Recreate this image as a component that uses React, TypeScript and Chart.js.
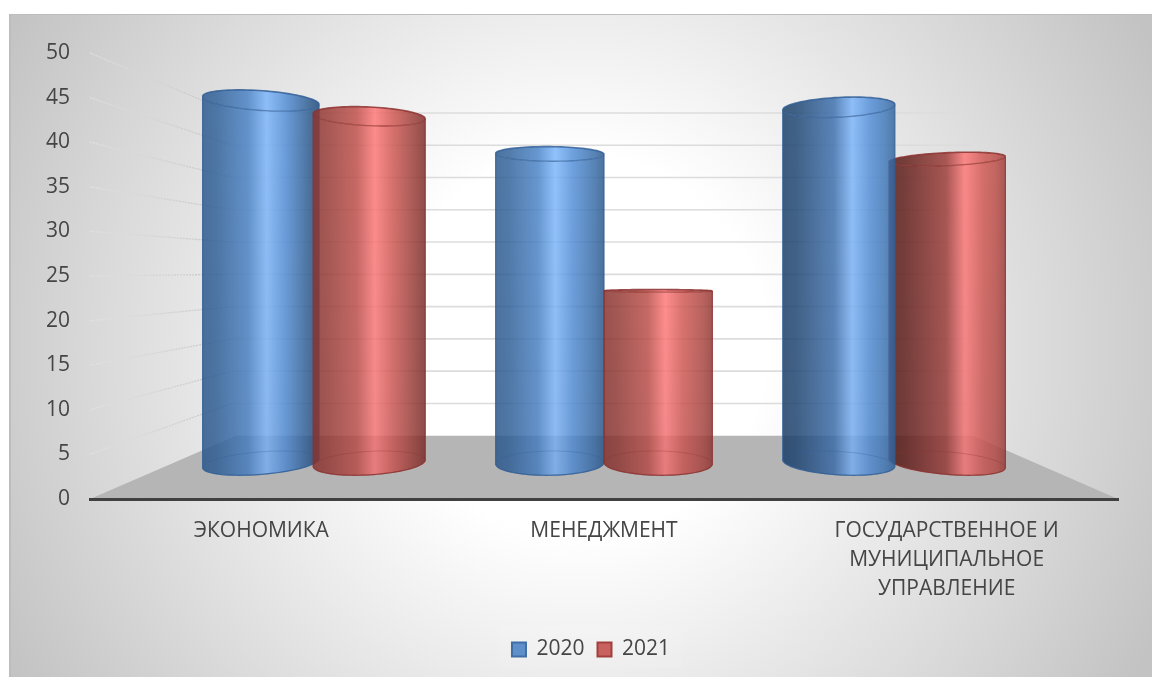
import React, { useEffect, useRef } from "react";
import { Chart, registerables } from "chart.js";

Chart.register(...registerables);

const categories: (string | string[])[] = ["ЭКОНОМИКА", "МЕНЕДЖМЕНТ", ["ГОСУДАРСТВЕННОЕ И", "МУНИЦИПАЛЬНОЕ", "УПРАВЛЕНИЕ"]];
const series2020 = [48.2, 41.1, 47.3];
const series2021 = [46.1, 22.9, 40.4];
const yTicks = [0, 5, 10, 15, 20, 25, 30, 35, 40, 45, 50];

const VANISH_Y = 270;
const BACK_Z = 1 / 0.7236 - 1;
const BAR_Z = 1 / 0.84 - 1;
const RADIUS_Z = 0.075;
const ALPHA = 0.84;
const LEGEND_SHIFT = 32;

const BLUE = { edge: [84, 126, 174], mid: [104, 152, 210], hi: [146, 194, 252], line: "rgba(50,95,150,0.85)", capLine: "rgba(50,95,150,0.65)", soft: "rgba(50,95,150,0.3)" };
const RED = { edge: [172, 92, 88], mid: [204, 108, 104], hi: [255, 142, 142], line: "rgba(140,50,48,0.85)", capLine: "rgba(140,50,48,0.65)", soft: "rgba(140,50,48,0.3)" };

type Pt = [number, number];

const src = (c: number[], f: number) =>
  `rgba(${c.map((v) => Math.max(0, Math.round((v * f - 255 * (1 - ALPHA)) / ALPHA))).join(",")},${ALPHA})`;

const perspectivePlugin = {
  id: "perspective",
  afterLayout(chart: any) {
    if (chart.legend) {
      chart.legend.left += LEGEND_SHIFT;
      chart.legend.right += LEGEND_SHIFT;
    }
  },
  beforeDraw(chart: any) {
    const { ctx, width, height, chartArea: a, scales } = chart;
    const vx = (a.left + a.right) / 2;
    const y = scales.y;
    const proj = (xw: number, yf: number, z: number): Pt => {
      const k = 1 / (1 + z);
      return [vx + (xw - vx) * k, VANISH_Y + (yf - VANISH_Y) * k];
    };
    ctx.save();
    ctx.fillStyle = "#ffffff";
    ctx.fillRect(0, 0, width, height);
    const g = ctx.createRadialGradient(576, 345, 190, 576, 345, 650);
    g.addColorStop(0, "#ffffff");
    g.addColorStop(1, "#c3c3c3");
    ctx.fillStyle = g;
    ctx.fillRect(10, 14, width - 10, height - 14);
    ctx.fillStyle = "#bdbdbd";
    ctx.fillRect(9, 14, width - 9, 1);
    ctx.fillRect(9, 14, 2, height - 14);

    // legend backdrop
    ctx.fillStyle = "rgba(255,255,255,0.1)";
    ctx.fillRect(497, 626, 184, 42);

    // floor
    const zero = y.getPixelForValue(0);
    const fl = proj(a.left, zero, 0), fr = proj(a.right, zero, 0);
    const bl = proj(a.left, zero, BACK_Z), br = proj(a.right, zero, BACK_Z);
    ctx.fillStyle = "#b5b5b5";
    ctx.beginPath();
    ctx.moveTo(fl[0], fl[1]);
    ctx.lineTo(fr[0], fr[1]);
    ctx.lineTo(br[0] - 3, br[1]);
    ctx.lineTo(bl[0] + 4, bl[1]);
    ctx.closePath();
    ctx.fill();

    // wall grid lines
    yTicks.forEach((t) => {
      if (t === 0) return;
      const yf = y.getPixelForValue(t);
      const p0 = proj(a.left, yf, 0);
      const p1 = proj(a.left, yf, BACK_Z);
      const p2 = proj(a.right, yf, BACK_Z);
      const lg = ctx.createLinearGradient(p0[0], 0, p1[0], 0);
      lg.addColorStop(0, "rgba(228,228,228,0.8)");
      lg.addColorStop(1, "rgba(190,190,190,0.85)");
      ctx.strokeStyle = lg;
      ctx.lineWidth = 1.3;
      ctx.setLineDash([2, 1]);
      ctx.beginPath();
      ctx.moveTo(p0[0], p0[1]);
      ctx.lineTo(p1[0], p1[1]);
      ctx.stroke();
      ctx.setLineDash([]);
      ctx.strokeStyle = "#dcdcdc";
      ctx.lineWidth = 1.6;
      ctx.beginPath();
      ctx.moveTo(p1[0], p1[1]);
      ctx.lineTo(p2[0] - 3, p2[1]);
      ctx.stroke();
    });
    ctx.restore();
  },
  beforeDatasetsDraw(chart: any) {
    const { ctx, chartArea: a, scales } = chart;
    const vx = (a.left + a.right) / 2;
    const y = scales.y;
    const proj = (xw: number, yf: number, z: number): Pt => {
      const k = 1 / (1 + z);
      return [vx + (xw - vx) * k, VANISH_Y + (yf - VANISH_Y) * k];
    };
    const items: any[] = [];
    chart.data.datasets.forEach((ds: any, di: number) => {
      chart.getDatasetMeta(di).data.forEach((bar: any, i: number) => {
        items.push({ x: bar.x, r: bar.width / 2, value: ds.data[i], pal: di === 0 ? BLUE : RED });
      });
    });
    items.sort((p, q) => Math.abs(q.x - vx) - Math.abs(p.x - vx));
    const base = y.getPixelForValue(0);
    const N = 96;
    items.forEach((it) => {
      const top = y.getPixelForValue(it.value);
      const ring = (yf: number): Pt[] => {
        const pts: Pt[] = [];
        for (let n = 0; n < N; n++) {
          const th = (n / N) * Math.PI * 2;
          pts.push(proj(it.x + it.r * Math.cos(th), yf, BAR_Z + RADIUS_Z * Math.sin(th)));
        }
        return pts;
      };
      const topR = ring(top), botR = ring(base);
      let iMin = 0, iMax = 0;
      topR.forEach((p, n) => {
        if (p[0] < topR[iMin][0]) iMin = n;
        if (p[0] > topR[iMax][0]) iMax = n;
      });
      // near side runs with increasing angle from left to right, far side with decreasing angle
      const arc = (pts: Pt[], near: boolean): Pt[] => {
        const out: Pt[] = [];
        const step = near ? 1 : N - 1;
        let n = iMin;
        out.push(pts[n]);
        while (n !== iMax) {
          n = (n + step) % N;
          out.push(pts[n]);
        }
        return out;
      };
      const topLower = arc(topR, top > VANISH_Y);
      const topUpper = arc(topR, top <= VANISH_Y);
      const botLower = arc(botR, true);
      const xL = topR[iMin][0], xR = topR[iMax][0];
      const t = (it.x - vx) / 400;
      const fL = t > 0 ? 1 - 0.3 * t : 1 - 0.02;
      const fR = t < 0 ? 1 + 0.12 * t : 1 + 0.1 * t;
      const hiPos = 0.55 + 0.1 * Math.max(t, 0);
      const grad = () => {
        const gr = ctx.createLinearGradient(xL, 0, xR, 0);
        const p = it.pal;
        gr.addColorStop(0, src(p.edge, fL * 0.94));
        gr.addColorStop(0.12, src(p.edge, fL));
        gr.addColorStop(Math.max(0.36, hiPos - 0.16), src(p.mid, (fL + 1) / 2));
        gr.addColorStop(hiPos, src(p.hi, 1));
        gr.addColorStop(hiPos + 0.16, src(p.mid, 1.06));
        gr.addColorStop(0.92, src(p.edge, fR * 1.05));
        gr.addColorStop(1, src(p.edge, fR * 0.92));
        return gr;
      };
      const path = (pts: Pt[], close: boolean) => {
        ctx.beginPath();
        pts.forEach((q, n) => (n ? ctx.lineTo(q[0], q[1]) : ctx.moveTo(q[0], q[1])));
        if (close) ctx.closePath();
      };
      ctx.save();
      const body = [...topLower, ...[...botLower].reverse()];
      path(body, true);
      ctx.fillStyle = grad();
      ctx.fill();
      const yTop = Math.min(...topLower.map((q) => q[1]));
      const yBot = Math.max(...botLower.map((q) => q[1]));
      const shade = ctx.createLinearGradient(0, yTop, 0, yBot);
      shade.addColorStop(0, "rgba(20,20,40,0)");
      shade.addColorStop(1, "rgba(20,20,40,0.05)");
      ctx.fillStyle = shade;
      ctx.fill();
      // inner base outline
      path(botR, true);
      ctx.strokeStyle = it.pal.soft;
      ctx.lineWidth = 1;
      ctx.stroke();
      // side edges and lower base arc
      path([[xL, topR[iMin][1]], ...botLower, [xR, topR[iMax][1]]] as Pt[], false);
      ctx.strokeStyle = it.pal.line;
      ctx.lineWidth = 1.2;
      ctx.stroke();
      // cap
      path(topR, true);
      ctx.fillStyle = grad();
      ctx.fill();
      path(topLower, false);
      ctx.strokeStyle = it.pal.capLine;
      ctx.lineWidth = 1.3;
      ctx.stroke();
      path(topUpper, false);
      ctx.strokeStyle = it.pal.line;
      ctx.lineWidth = 1.6;
      ctx.stroke();
      ctx.restore();
    });
    return false;
  },
};

export default function App() {
  const ref = useRef<HTMLCanvasElement>(null);
  useEffect(() => {
    const font = { family: "'Open Sans', sans-serif", size: 21 };
    const xFont = { family: "'Open Sans', sans-serif", size: 21, lineHeight: 1.38 };
    const chart = new Chart(ref.current as HTMLCanvasElement, {
      type: "bar",
      data: {
        labels: categories as any,
        datasets: [
          { label: "2020", data: series2020, backgroundColor: "#5f8fca", borderColor: "#3f6ea6", borderWidth: 2 },
          { label: "2021", data: series2021, backgroundColor: "#c9625f", borderColor: "#a03f3c", borderWidth: 2 },
        ],
      },
      options: {
        responsive: false,
        animation: false,
        layout: { padding: { top: 53, right: 34, bottom: 7, left: 0 } },
        datasets: { bar: { categoryPercentage: 0.75, barPercentage: 1 } },
        scales: {
          x: {
            grid: { display: false },
            border: { display: true, color: "#404040", width: 3 },
            ticks: { color: "#454545", font: xFont, padding: 10, maxRotation: 0, autoSkip: false },
            afterFit: (s: any) => { s.height = 127; },
          },
          y: {
            min: 0,
            max: 50,
            grid: { display: false },
            border: { display: false },
            afterBuildTicks: (s: any) => { s.ticks = yTicks.map((value) => ({ value })); },
            ticks: { color: "#454545", font, padding: 12 },
            afterFit: (s: any) => { s.width = 90; },
          },
        },
        plugins: {
          tooltip: { enabled: false },
          legend: {
            position: "bottom",
            labels: { font, color: "#454545", boxWidth: 14, boxHeight: 14, padding: 13 },
          },
        },
      },
      plugins: [perspectivePlugin as any],
    });
    return () => chart.destroy();
  }, []);
  return (
    <div style={{ position: "fixed", left: 0, top: 0, width: 1152, height: 677 }}>
      <canvas ref={ref} width={1152} height={677} style={{ display: "block" }} />
    </div>
  );
}
